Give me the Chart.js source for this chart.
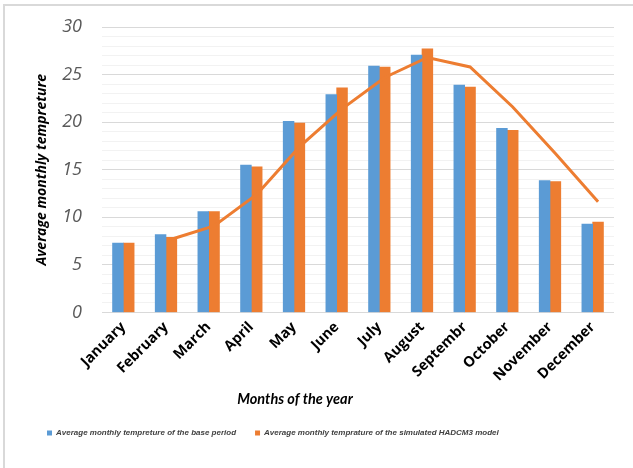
<!DOCTYPE html>
<html>
<head>
<meta charset="utf-8">
<script src="https://cdn.jsdelivr.net/npm/chart.js@4/dist/chart.umd.min.js"></script>
<style>
  html, body { margin: 0; padding: 0; background: #ffffff; overflow: hidden; }
  #wrap { position: relative; width: 633px; height: 468px; }
  #frame { position: absolute; left: 3px; top: 4px; width: 700px; height: 600px;
           border: 2px solid #D9D9D9; pointer-events: none; box-sizing: border-box; }
  canvas { position: absolute; left: 0; top: 0; }
</style>
</head>
<body>
<div id="wrap">
  <canvas id="c" width="633" height="468"></canvas>
  <div id="frame"></div>
</div>
<script>
// ---- data ----
const months = ['January', 'February', 'March', 'April', 'May', 'June', 'July',
                'August', 'Septembr', 'October', 'November', 'December'];
const basePeriod = [7.3, 8.2, 10.6, 15.5, 20.1, 22.9, 25.9, 27.05, 23.9, 19.35, 13.85, 9.3];
const hadcm3 = [7.3, 7.9, 10.6, 15.3, 19.9, 23.6, 25.8, 27.7, 23.7, 19.15, 13.75, 9.5];
const hadcm3Line = [null, 7.7, 9.1, 12.4, 17.4, 21.4, 24.7, 26.8, 25.8, 21.6, 16.7, 11.65];
const yTickLabels = [0, 5, 10, 15, 20, 25, 30];
const baseLabel = 'Average monthly tempreture of the base period';
const modelLabel = 'Average monthly temprature of the simulated HADCM3 model';
const yTitle = 'Average monthly tempreture';
const xTitle = 'Months of the year';

const BLUE = '#5B9BD5';
const ORANGE = '#ED7D31';
const BAR_W = 10.8;
// line vertices sit over the centre of the orange bars (half a bar right of the category centre)
const lineShift = 0.1265;
const linePoints = hadcm3Line.map((v, i) => ({ x: i + lineShift, y: v }));

const xTitlePlugin = {
  id: 'xTitlePlugin',
  afterDraw(chart) {
    const ctx = chart.ctx;
    ctx.save();
    ctx.font = 'italic bold 14.5px Lato';
    ctx.fillStyle = '#000000';
    ctx.textAlign = 'center';
    ctx.textBaseline = 'alphabetic';
    ctx.fillText(xTitle, 295, 404);
    ctx.restore();
  }
};

new Chart(document.getElementById('c'), {
  type: 'bar',
  data: {
    labels: months,
    datasets: [
      {
        type: 'line',
        label: 'model line',
        data: linePoints,
        xAxisID: 'x2',
        borderColor: ORANGE,
        backgroundColor: ORANGE,
        borderWidth: 3,
        pointRadius: 0,
        tension: 0,
        spanGaps: false,
        order: 0
      },
      {
        label: baseLabel,
        data: basePeriod,
        xAxisID: 'x',
        backgroundColor: BLUE,
        borderWidth: 0,
        barThickness: BAR_W,
        order: 1
      },
      {
        label: modelLabel,
        data: hadcm3,
        xAxisID: 'x',
        backgroundColor: ORANGE,
        borderWidth: 0,
        barThickness: BAR_W,
        order: 1
      }
    ]
  },
  options: {
    responsive: false,
    animation: false,
    devicePixelRatio: 1,
    layout: { padding: { left: 28, right: 19, top: 27, bottom: 21 } },
    plugins: {
      tooltip: { enabled: false },
      title: { display: false },
      legend: {
        display: true,
        position: 'bottom',
        align: 'start',
        labels: {
          filter: (item) => item.datasetIndex !== 0,
          boxWidth: 5,
          boxHeight: 5,
          padding: 19,
          color: '#404040',
          font: { family: '"Liberation Sans"', size: 8, style: 'italic', weight: 'bold' }
        }
      }
    },
    scales: {
      x: {
        type: 'category',
        offset: true,
        grid: { display: false, drawTicks: false },
        border: { display: false },
        ticks: {
          minRotation: 45,
          maxRotation: 45,
          autoSkip: false,
          padding: 6,
          color: '#000000',
          font: { family: '"Open Sans"', size: 14.5, weight: 'bold' }
        },
        afterFit(scale) { scale.height = 97.5; }
      },
      x2: {
        type: 'linear',
        display: false,
        offset: false,
        min: -0.5,
        max: 11.5,
        grid: { offset: false }
      },
      y: {
        min: 0,
        max: 30,
        grid: {
          drawTicks: true,
          tickLength: 18,
          tickColor: 'rgba(0,0,0,0)',
          color: (ctx) => (ctx.tick && yTickLabels.includes(ctx.tick.value)) ? '#D9D9D9' : '#F2F2F2',
          lineWidth: 1
        },
        border: { display: false },
        ticks: {
          stepSize: 1,
          autoSkip: false,
          padding: 2,
          color: '#595959',
          font: { family: '"Open Sans"', size: 18, style: 'italic' },
          callback: (v) => yTickLabels.includes(v) ? String(v) : ''
        },
        title: {
          display: true,
          text: yTitle,
          color: '#000000',
          padding: { top: 6, bottom: 0 },
          font: { family: '"Open Sans"', size: 14, style: 'italic', weight: 'bold' }
        },
        afterFit(scale) { scale.width = 74; }
      }
    }
  },
  plugins: [xTitlePlugin]
});
</script>
</body>
</html>
